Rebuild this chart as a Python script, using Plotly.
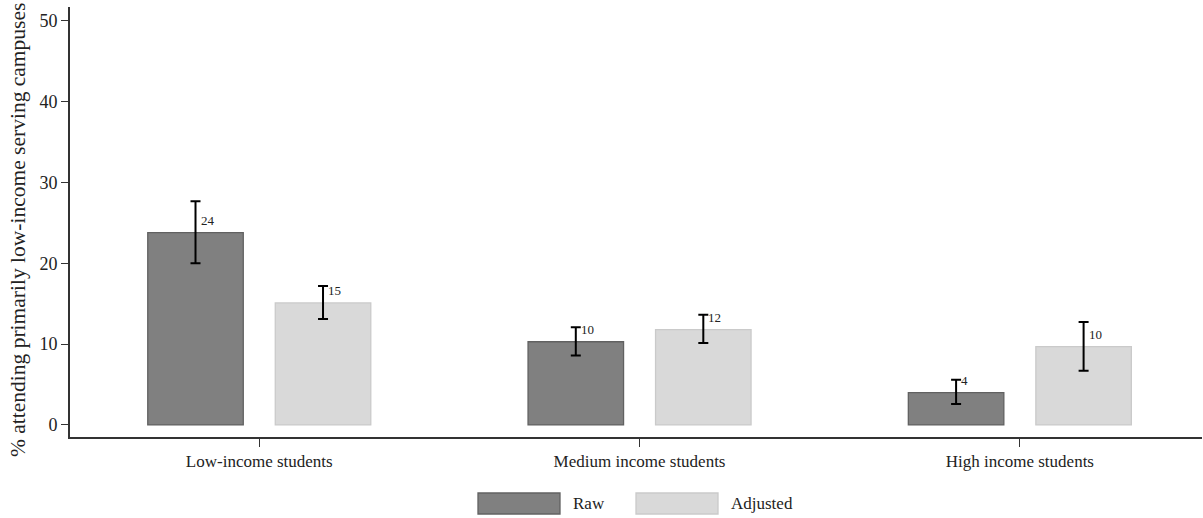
import plotly.graph_objects as go

categories = ["Low-income students", "Medium income students", "High income students"]
series_names = ["Raw", "Adjusted"]
raw_values = [23.8, 10.3, 4.0]
raw_lower = [20.0, 8.6, 2.6]
raw_upper = [27.7, 12.1, 5.6]
adj_values = [15.1, 11.8, 9.7]
adj_lower = [13.1, 10.15, 6.7]
adj_upper = [17.2, 13.65, 12.75]
y_ticks = [0, 10, 20, 30, 40, 50]
y_title = "% attending primarily low-income serving campuses"

FONT = "Liberation Serif"
RAW_FILL, RAW_LINE = "#808080", "#616161"
ADJ_FILL, ADJ_LINE = "#d9d9d9", "#cacaca"

BARGAP = 0.3294
BARGROUPGAP = 0.251

W, H = 1203, 518
ML, MR, MT, MB = 70, 1, 7, 81
PW, PH = W - ML - MR, H - MT - MB

fig = go.Figure()
series = [
    (series_names[0], raw_values, raw_lower, raw_upper, RAW_FILL, RAW_LINE),
    (series_names[1], adj_values, adj_lower, adj_upper, ADJ_FILL, ADJ_LINE),
]
for name, vals, lo, hi, fill, line in series:
    fig.add_trace(go.Bar(
        x=categories, y=vals, name=name,
        marker=dict(color=fill, line=dict(color=line, width=1.3)),
        error_y=dict(type="data", symmetric=False,
                     array=[h - v for h, v in zip(hi, vals)],
                     arrayminus=[v - l for v, l in zip(vals, lo)],
                     color="black", thickness=2, width=5),
        showlegend=False,
    ))

# value labels, to the right of each bar centre, slightly above the bar top
group_w = 1 - BARGAP
slot = group_w / 2
for s, (name, vals, lo, hi, fill, line) in enumerate(series):
    offset = -group_w / 2 + slot * (s + 0.5)
    for i, v in enumerate(vals):
        fig.add_annotation(x=i + offset, y=v, xref="x", yref="y",
                           text=f"{round(v):.0f}", showarrow=False,
                           xanchor="left", yanchor="middle", xshift=3, yshift=12,
                           font=dict(family=FONT, size=13, color="#222"))

# y-axis title
fig.add_annotation(x=-52 / PW, y=0.5, xref="paper", yref="paper", text=y_title,
                   textangle=-90, showarrow=False, xanchor="center", yanchor="middle",
                   yshift=-8,
                   font=dict(family=FONT, size=21.5, color="#222"))

# legend (drawn manually: wide swatches)
def px_x(p):
    return (p - ML) / PW

def px_y(p):
    return (H - MB - p) / PH

legend_items = [(series_names[0], RAW_FILL, RAW_LINE, 478),
                (series_names[1], ADJ_FILL, ADJ_LINE, 636)]
for name, fill, line, x0 in legend_items:
    fig.add_shape(type="rect", xref="paper", yref="paper",
                  x0=px_x(x0), x1=px_x(x0 + 82), y0=px_y(514), y1=px_y(493),
                  fillcolor=fill, line=dict(color=line, width=1.3))
    fig.add_annotation(x=px_x(x0 + 93), y=px_y(503.5), xref="paper", yref="paper",
                       text=name, showarrow=False, xanchor="left", yanchor="middle",
                       font=dict(family=FONT, size=17, color="#222"))

fig.update_layout(
    width=W, height=H,
    margin=dict(l=ML, r=MR, t=MT, b=MB),
    barmode="group", bargap=BARGAP, bargroupgap=BARGROUPGAP,
    plot_bgcolor="white", paper_bgcolor="white",
    font=dict(family=FONT, size=17, color="#222"),
    xaxis=dict(range=[-0.4977, 2.479], showline=True, linecolor="#333", linewidth=2,
               ticks="outside", ticklen=8, tickcolor="#333", tickwidth=1.3,
               showgrid=False, zeroline=False, tickfont=dict(size=17)),
    yaxis=dict(range=[-1.49, 51.73], tickvals=y_ticks, showline=True, linecolor="#333",
               linewidth=2, ticks="outside", ticklen=7, tickcolor="#333", tickwidth=1.3,
               showgrid=False, zeroline=False, tickfont=dict(size=18)),
)

fig.write_html("out.html", config={"displayModeBar": False},
               post_script="document.body.style.margin='0';document.body.style.padding='0';")
